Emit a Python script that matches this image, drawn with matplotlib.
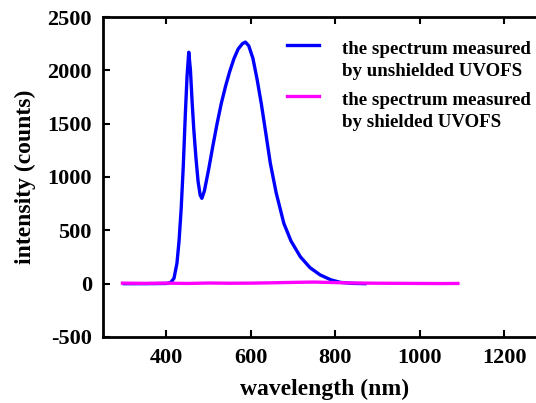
import matplotlib
matplotlib.use("Agg")
import matplotlib.pyplot as plt
from matplotlib.legend_handler import HandlerLine2D

# unshielded spectrum (blue)
wl_unshielded = [300, 350, 400, 410, 418, 425, 430, 435, 440, 445, 449, 453, 457, 461, 465,
                 470, 475, 480, 484, 490, 500, 510, 520, 530, 540, 550, 560, 570, 580, 587,
                 595, 605, 615, 625, 635, 646, 660, 678, 695, 717, 740, 764, 790, 812, 840, 870]
int_unshielded = [0, 0, 2, 10, 50, 190, 400, 700, 1100, 1600, 1950, 2170, 2000, 1700, 1440,
                  1180, 960, 830, 800, 870, 1070, 1290, 1500, 1690, 1850, 1990, 2110, 2200, 2250, 2265,
                  2230, 2110, 1910, 1680, 1420, 1130, 850, 566, 400, 253, 150, 82, 35, 12, 3, 0]

# shielded spectrum (magenta)
wl_shielded = [296, 350, 400, 450, 500, 550, 600, 650, 700, 750, 800, 850, 900, 950, 1000, 1050, 1090]
int_shielded = [5, 3, 5, 2, 6, 4, 5, 8, 12, 15, 10, 6, 4, 3, 2, 1, 2]

labels = ["the spectrum measured\nby unshielded UVOFS",
          "the spectrum measured\nby shielded UVOFS"]
x_ticks = [400, 600, 800, 1000, 1200]
y_ticks = [-500, 0, 500, 1000, 1500, 2000, 2500]

plt.rcParams['font.family'] = ['Liberation Serif', 'DejaVu Serif']
plt.rcParams['font.weight'] = 'bold'
plt.rcParams['axes.unicode_minus'] = False


class UpHandler(HandlerLine2D):
    def __init__(self, shift, **kw):
        super().__init__(**kw)
        self.shift = shift

    def create_artists(self, legend, orig_handle, xdescent, ydescent,
                       width, height, fontsize, trans):
        arts = super().create_artists(legend, orig_handle, xdescent, ydescent,
                                      width, height, fontsize, trans)
        for a in arts:
            y = a.get_ydata()
            a.set_ydata([v + self.shift for v in y])
        return arts


fig = plt.figure(figsize=(5.36, 4.03), dpi=100)
ax = fig.add_axes([103/536, 66/403, 443.6/536, 320/403])

l1, = ax.plot(wl_unshielded, int_unshielded, color='#0000ff', lw=2.4, label=labels[0])
l2, = ax.plot(wl_shielded, int_shielded, color='#ff00ff', lw=2.4, label=labels[1])

ax.set_xlim(250, 1300)
ax.set_ylim(-500, 2500)
ax.set_xticks(x_ticks)
ax.set_yticks(y_ticks)
ax.tick_params(direction='in', length=5, width=1.5, top=True, right=False,
               labelsize=16, pad=8)
for lab in ax.get_xticklabels() + ax.get_yticklabels():
    lab.set_fontweight('bold')
for s in ax.spines.values():
    s.set_linewidth(2)
ax.spines['right'].set_visible(False)

ax.set_xlabel('wavelength (nm)', fontsize=17, fontweight='bold', labelpad=8)
ax.set_ylabel('intensity (counts)', fontsize=17, fontweight='bold', labelpad=8)

h = UpHandler(11)
leg = ax.legend(loc='upper left', bbox_to_anchor=(287/536, 1 - 41/403),
                bbox_transform=fig.transFigure, frameon=False,
                prop={'family': 'Liberation Serif', 'weight': 'bold', 'size': 13.6},
                handlelength=1.7, handletextpad=1.2, labelspacing=0.66,
                borderpad=0, borderaxespad=0,
                handler_map={l1: h, l2: h})
for t in leg.get_texts():
    t.set_linespacing(1.35)

fig.savefig('out.png', dpi=100)
